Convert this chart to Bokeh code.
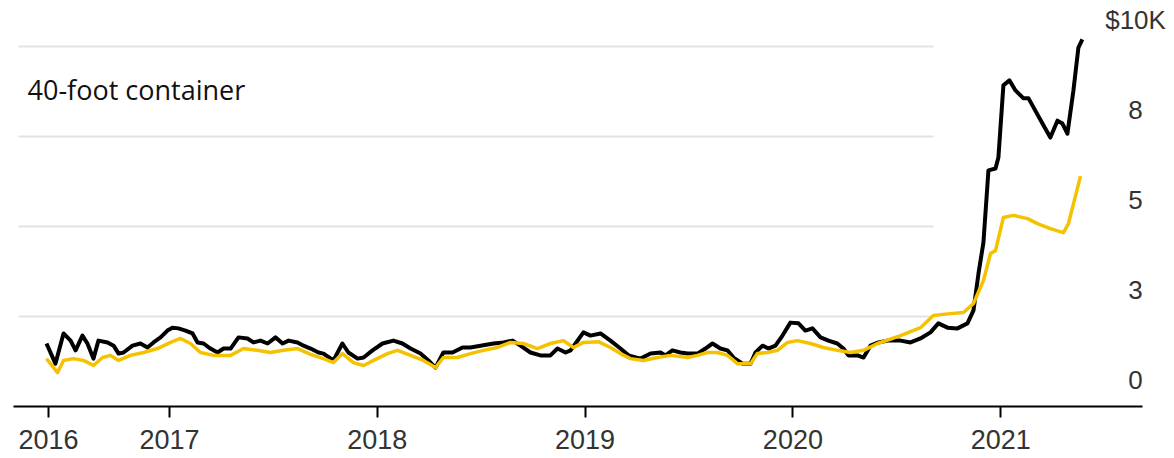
from bokeh.plotting import figure
from bokeh.models import Range1d, FixedTicker, NumeralTickFormatter, Label, ColumnDataSource
from bokeh.core.properties import value
from bokeh.embed import file_html
from bokeh.resources import INLINE

# ---- data (thousand US$ per 40-foot container), x in decimal years ----
black_t = [2016.408, 2016.451, 2016.490, 2016.524, 2016.548, 2016.581, 2016.605, 2016.634,
           2016.658, 2016.702, 2016.731, 2016.755, 2016.779, 2016.822, 2016.860, 2016.894,
           2016.923, 2016.957, 2016.990, 2017.014, 2017.043, 2017.077, 2017.111, 2017.135,
           2017.164, 2017.197, 2017.231, 2017.260, 2017.294, 2017.332, 2017.375, 2017.404,
           2017.438, 2017.472, 2017.510, 2017.544, 2017.573, 2017.616, 2017.645, 2017.679,
           2017.717, 2017.741, 2017.789, 2017.832, 2017.861, 2017.905, 2017.934, 2017.977,
           2018.025, 2018.078, 2018.121, 2018.160, 2018.208, 2018.246, 2018.280, 2018.318,
           2018.362, 2018.410, 2018.448, 2018.497, 2018.559, 2018.607, 2018.651, 2018.689,
           2018.737, 2018.785, 2018.833, 2018.867, 2018.906, 2018.930, 2018.954, 2018.992,
           2019.026, 2019.074, 2019.122, 2019.170, 2019.209, 2019.266, 2019.315, 2019.363,
           2019.387, 2019.420, 2019.459, 2019.493, 2019.541, 2019.579, 2019.613, 2019.651,
           2019.685, 2019.714, 2019.757, 2019.796, 2019.820, 2019.854, 2019.882, 2019.916,
           2019.950, 2019.988, 2020.027, 2020.060, 2020.094, 2020.133, 2020.171, 2020.214,
           2020.243, 2020.267, 2020.311, 2020.340, 2020.373, 2020.412, 2020.455, 2020.518,
           2020.566, 2020.614, 2020.662, 2020.700, 2020.744, 2020.792, 2020.840, 2020.869,
           2020.893, 2020.917, 2020.941, 2020.975, 2020.989, 2021.013, 2021.042, 2021.071,
           2021.110, 2021.134, 2021.158, 2021.201, 2021.239, 2021.273, 2021.297, 2021.321,
           2021.350, 2021.374, 2021.393]
black_v = [1.75, 1.19, 2.03, 1.83, 1.56, 1.97, 1.75, 1.33,
           1.83, 1.78, 1.69, 1.47, 1.50, 1.69, 1.75, 1.64,
           1.78, 1.92, 2.11, 2.19, 2.17, 2.11, 2.03, 1.78,
           1.75, 1.61, 1.50, 1.61, 1.61, 1.92, 1.89, 1.78,
           1.83, 1.75, 1.92, 1.75, 1.83, 1.78, 1.69, 1.61,
           1.50, 1.47, 1.28, 1.75, 1.50, 1.33, 1.36, 1.56,
           1.75, 1.83, 1.75, 1.61, 1.47, 1.28, 1.08, 1.50,
           1.50, 1.64, 1.64, 1.69, 1.75, 1.78, 1.83, 1.69,
           1.50, 1.42, 1.42, 1.61, 1.50, 1.56, 1.75, 2.06,
           1.97, 2.03, 1.83, 1.61, 1.42, 1.33, 1.47, 1.50,
           1.42, 1.56, 1.50, 1.47, 1.47, 1.61, 1.75, 1.61,
           1.56, 1.36, 1.19, 1.19, 1.50, 1.69, 1.61, 1.69,
           1.97, 2.33, 2.31, 2.11, 2.17, 1.92, 1.83, 1.75,
           1.61, 1.42, 1.42, 1.36, 1.69, 1.78, 1.83, 1.83,
           1.78, 1.89, 2.06, 2.31, 2.19, 2.17, 2.31, 2.67,
           3.69, 4.56, 6.56, 6.61, 6.92, 8.92, 9.06, 8.78,
           8.56, 8.56, 8.31, 7.86, 7.47, 7.94, 7.86, 7.58,
           8.78, 9.97, 10.20]

yellow_t = [2016.408, 2016.461, 2016.490, 2016.538, 2016.586, 2016.634, 2016.678, 2016.716,
            2016.755, 2016.812, 2016.875, 2016.942, 2017.005, 2017.053, 2017.101, 2017.149,
            2017.212, 2017.294, 2017.356, 2017.423, 2017.486, 2017.549, 2017.616, 2017.679,
            2017.741, 2017.789, 2017.832, 2017.885, 2017.934, 2017.982, 2018.049, 2018.097,
            2018.160, 2018.222, 2018.280, 2018.318, 2018.386, 2018.448, 2018.511, 2018.578,
            2018.641, 2018.703, 2018.771, 2018.833, 2018.896, 2018.944, 2018.992, 2019.064,
            2019.122, 2019.170, 2019.218, 2019.281, 2019.348, 2019.411, 2019.493, 2019.541,
            2019.589, 2019.637, 2019.685, 2019.733, 2019.796, 2019.829, 2019.878, 2019.926,
            2019.974, 2020.022, 2020.085, 2020.147, 2020.214, 2020.277, 2020.340, 2020.407,
            2020.518, 2020.614, 2020.676, 2020.758, 2020.821, 2020.869, 2020.917, 2020.951,
            2020.975, 2021.013, 2021.061, 2021.129, 2021.177, 2021.239, 2021.302, 2021.326,
            2021.384]
yellow_v = [1.33, 0.94, 1.28, 1.33, 1.28, 1.14, 1.36, 1.42,
            1.28, 1.42, 1.50, 1.61, 1.78, 1.89, 1.75, 1.50,
            1.42, 1.42, 1.61, 1.56, 1.50, 1.56, 1.61, 1.45,
            1.33, 1.22, 1.47, 1.22, 1.14, 1.28, 1.47, 1.56,
            1.42, 1.28, 1.08, 1.36, 1.36, 1.47, 1.56, 1.64,
            1.78, 1.75, 1.61, 1.75, 1.83, 1.64, 1.78, 1.80,
            1.64, 1.47, 1.33, 1.28, 1.36, 1.42, 1.36, 1.42,
            1.50, 1.50, 1.42, 1.19, 1.19, 1.47, 1.50, 1.56,
            1.78, 1.83, 1.75, 1.64, 1.56, 1.50, 1.56, 1.75,
            1.97, 2.19, 2.53, 2.58, 2.61, 2.86, 3.50, 4.25,
            4.33, 5.25, 5.31, 5.22, 5.08, 4.94, 4.83, 5.08,
            6.40]

x_ticks = [2016.418, 2017, 2018, 2019, 2020, 2021]
y_ticks = [0, 2.5, 5, 7.5, 10]
y_labels = ["0", "3", "5", "8", "$10K"]
grid_values = [2.5, 5, 7.5, 10]
label_text = "40-foot container"

# ---- figure ----
p = figure(width=1174, height=458, output_backend="svg", toolbar_location=None,
           x_range=Range1d(2016.1867, 2021.8364), y_range=Range1d(0, 11.278),
           y_axis_location=None, min_border_left=0, min_border_right=0,
           min_border_top=0, min_border_bottom=52, background_fill_color="white",
           border_fill_color="white")
p.outline_line_color = None
p.xgrid.visible = False
p.ygrid.visible = False

ax = p.xaxis[0]
ax.ticker = FixedTicker(ticks=x_ticks)
ax.formatter = NumeralTickFormatter(format="0")
ax.bounds = (2016.25, 2021.68)
ax.axis_line_color = "black"
ax.axis_line_width = 2
ax.major_tick_line_color = "black"
ax.major_tick_line_width = 2
ax.major_tick_in = 0
ax.major_tick_out = 11
ax.minor_tick_line_color = None
ax.major_label_standoff = 12
ax.major_label_text_font = "Liberation Sans"
ax.major_label_text_font_size = "27px"
ax.major_label_text_color = "#333333"

# grid segments (stop before the right-hand end)
gsrc = ColumnDataSource(dict(x0=[2016.273] * len(grid_values), x1=[2020.677] * len(grid_values),
                             y=grid_values))
p.segment(x0="x0", x1="x1", y0="y", y1="y", source=gsrc, line_color="#e3e3e3", line_width=2)

# series
p.line(black_t, black_v, line_color="#000000", line_width=4, line_join="round")
p.line(yellow_t, yellow_v, line_color="#f5c200", line_width=3.5, line_join="round")

# right-hand value labels (sit above their gridlines)
lsrc = ColumnDataSource(dict(x=[2021.649] * len(y_ticks), y=y_ticks, t=y_labels))
p.text(x="x", y="y", text="t", source=lsrc, y_offset=-27, text_align="center",
       text_baseline="middle", text_font=value("Liberation Sans"), text_font_size="26px",
       text_color="#333333")

p.add_layout(Label(x=2016.3167, y=8.806, text=label_text, text_font="Open Sans",
                   text_font_size="27px", text_color="#111111", text_baseline="alphabetic"))

open("out.html", "w").write(file_html(p, INLINE))
